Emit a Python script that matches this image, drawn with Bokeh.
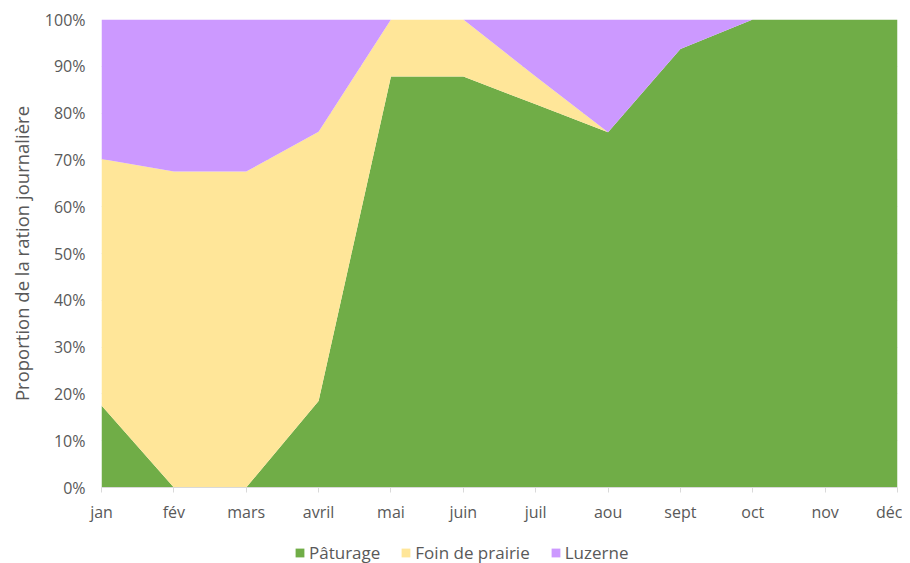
from bokeh.plotting import figure
from bokeh.layouts import column
from bokeh.models import ColumnDataSource, FixedTicker, Legend, LegendItem, PrintfTickFormatter, Range1d
from bokeh.embed import file_html
from bokeh.resources import INLINE

months = ["jan", "fév", "mars", "avril", "mai", "juin", "juil", "aou", "sept", "oct", "nov", "déc"]
paturage = [17.5, 0, 0, 18.5, 87.8, 87.8, 81.9, 75.9, 93.7, 100, 100, 100]
foin = [52.7, 67.5, 67.5, 57.5, 12.2, 12.2, 5.9, 0, 0, 0, 0, 0]
luzerne = [29.8, 32.5, 32.5, 24.0, 0, 0, 12.2, 24.1, 6.3, 0, 0, 0]
series_names = ["Pâturage", "Foin de prairie", "Luzerne"]
colors = ["#70AD47", "#FFE699", "#CC99FF"]
yticks = [0, 10, 20, 30, 40, 50, 60, 70, 80, 90, 100]

FONT = "Open Sans"
TXT = "#595959"

x = list(range(len(months)))
source = ColumnDataSource(dict(x=x, pat=paturage, foin=foin, luz=luzerne))

p = figure(width=902, height=530, output_backend="svg", toolbar_location=None,
           x_range=Range1d(0, len(months) - 1), y_range=Range1d(0, 100),
           min_border_left=101, min_border_right=5, min_border_top=19, min_border_bottom=43)
p.outline_line_color = None

renderers = p.varea_stack(stackers=["pat", "foin", "luz"], x="x", color=colors, source=source)

p.xaxis.ticker = FixedTicker(ticks=x)
p.xaxis.major_label_overrides = {i: m for i, m in enumerate(months)}
p.xaxis.axis_line_color = "#D9D9D9"
p.xaxis.major_tick_line_color = "#D9D9D9"
p.xaxis.major_tick_in = 0
p.xaxis.major_tick_out = 5
p.xaxis.minor_tick_line_color = None
p.xaxis.major_label_standoff = 8
p.xaxis.major_label_text_font = FONT
p.xaxis.major_label_text_font_size = "16px"
p.xaxis.major_label_text_color = TXT

p.yaxis.ticker = FixedTicker(ticks=yticks)
p.yaxis.formatter = PrintfTickFormatter(format="%d%%")
p.yaxis.axis_line_color = None
p.yaxis.major_tick_line_color = None
p.yaxis.major_tick_in = 0
p.yaxis.major_tick_out = 0
p.yaxis.minor_tick_line_color = None
p.yaxis.major_label_standoff = 16
p.yaxis.major_label_text_font = FONT
p.yaxis.major_label_text_font_size = "16px"
p.yaxis.major_label_text_color = TXT
p.yaxis.axis_label = "Proportion de la ration journalière"
p.yaxis.axis_label_text_font = FONT
p.yaxis.axis_label_text_font_size = "18.5px"
p.yaxis.axis_label_text_font_style = "normal"
p.yaxis.axis_label_text_color = TXT
p.yaxis.axis_label_standoff = 8

p.xgrid.grid_line_color = None
p.ygrid.grid_line_color = "#D9D9D9"

# legend strip below the chart (its frame is aligned with the chart's frame)
lg = figure(width=902, height=33, output_backend="svg", toolbar_location=None,
            x_range=Range1d(0, 1), y_range=Range1d(0, 1),
            x_axis_location=None, y_axis_location=None,
            min_border_left=0, min_border_right=0, min_border_top=0, min_border_bottom=0)
lg.outline_line_color = None
lg.grid.visible = False
# swatch renderers kept outside the visible range; only their legend glyphs show
swatches = [lg.varea(x=[5, 6], y1=[5, 5], y2=[6, 6], fill_color=c) for c in colors]

legend = Legend(items=[LegendItem(label=n, renderers=[r]) for n, r in zip(series_names, swatches)],
                orientation="horizontal", location=(193, -1),
                label_text_font=FONT, label_text_font_size="17px", label_text_color=TXT,
                glyph_width=11, glyph_height=11, label_standoff=4, spacing=20,
                border_line_color=None, background_fill_alpha=0, padding=0, margin=0)
lg.add_layout(legend)

layout = column(p, lg, spacing=0)
open("out.html", "w").write(file_html(layout, INLINE))
